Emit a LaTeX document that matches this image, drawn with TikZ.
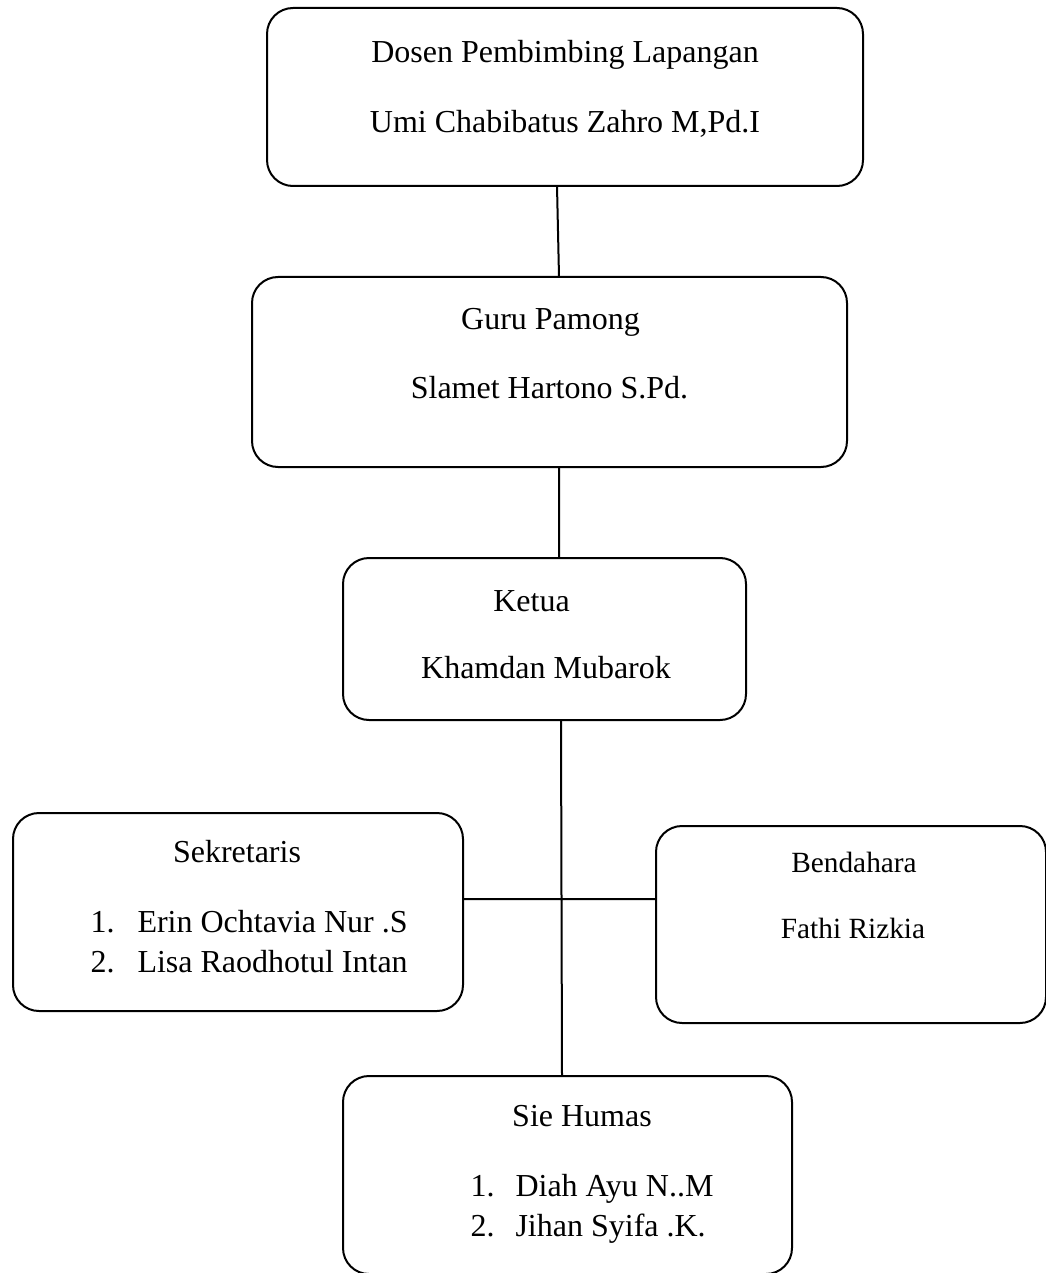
\documentclass[tikz,border=0pt]{standalone}
\usepackage{fontspec}
\setmainfont{Liberation Serif}
\usepackage{tikz}
\usetikzlibrary{positioning}
\newlength{\pxu}
\setlength{\pxu}{0.375pt}

\begin{document}
\begin{tikzpicture}[x=0.375pt, y=-0.375pt,
	kotak/.style={draw=black, line width=2\pxu, rounded corners=26\pxu, inner sep=0pt, outer sep=0pt},
	teks/.style={inner sep=0pt, anchor=base, font=\fontsize{12pt}{15pt}\selectfont},
	daftar/.style={teks, anchor=base west},
	garis/.style={draw=black, line width=2\pxu}]
	\useasboundingbox (0,0) rectangle (1046,1273);
	\clip (0,0) rectangle (1046,1273);

	% Add the boxes
	\node[kotak,
		  minimum width=596\pxu,
		  minimum height=178\pxu] (dosen) at (565,97) {};
	\node[kotak,
		  below=91\pxu of dosen,
		  xshift=-15.5\pxu,
		  minimum width=595\pxu,
		  minimum height=190\pxu] (guru) {};
	\node[kotak,
		  below=91\pxu of guru,
		  xshift=-5\pxu,
		  minimum width=403\pxu,
		  minimum height=162\pxu] (ketua) {};
	\node[kotak,
		  minimum width=450\pxu,
		  minimum height=198\pxu] (sekretaris) at (238,912) {};
	\node[kotak,
		  minimum width=390\pxu,
		  minimum height=197\pxu] (bendahara) at (851,924.5) {};
	\node[kotak,
		  below=356\pxu of ketua,
		  xshift=23\pxu,
		  minimum width=449\pxu,
		  minimum height=198\pxu] (humas) {};

	% Add the texts
	\node[teks] (dosen-jab) at ([yshift=-55\pxu]dosen.north) {Dosen Pembimbing Lapangan};
	\node[teks] (dosen-nama) at ([yshift=-125\pxu]dosen.north) {Umi Chabibatus Zahro M,Pd.I};
	\node[teks] (guru-jab) at ([xshift=1\pxu, yshift=-52\pxu]guru.north) {Guru Pamong};
	\node[teks] (guru-nama) at ([yshift=-121\pxu]guru.north) {Slamet Hartono S.Pd.};
	\node[teks] (ketua-jab) at ([xshift=-13\pxu, yshift=-53\pxu]ketua.north) {Ketua};
	\node[teks] (ketua-nama) at ([xshift=1.5\pxu, yshift=-120\pxu]ketua.north) {Khamdan Mubarok};
	\node[teks] (sek-jab) at ([xshift=-1\pxu, yshift=-49\pxu]sekretaris.north) {Sekretaris};
	\node[daftar] (sek-1) at ([xshift=77\pxu, yshift=-119\pxu]sekretaris.north west) {\makebox[47\pxu][l]{1.}Erin Ochtavia Nur .S};
	\node[daftar] (sek-2) at ([xshift=77\pxu, yshift=-159\pxu]sekretaris.north west) {\makebox[47\pxu][l]{2.}Lisa Raodhotul Intan};
	\node[teks,
		  font=\fontsize{11pt}{14pt}\selectfont] (bend-jab) at ([xshift=3\pxu, yshift=-46\pxu]bendahara.north) {Bendahara};
	\node[teks,
		  font=\fontsize{11pt}{14pt}\selectfont] (bend-nama) at ([xshift=2\pxu, yshift=-112\pxu]bendahara.north) {Fathi Rizkia};
	\node[teks] (humas-jab) at ([xshift=14.5\pxu, yshift=-50\pxu]humas.north) {Sie Humas};
	\node[daftar] (humas-1) at ([xshift=127\pxu, yshift=-120\pxu]humas.north west) {\makebox[45\pxu][l]{1.}Diah Ayu N..M};
	\node[daftar] (humas-2) at ([xshift=127\pxu, yshift=-160\pxu]humas.north west) {\makebox[45\pxu][l]{2.}Jihan Syifa .K.};

	% Add the lines
	\coordinate (simpang) at ([yshift=13\pxu]sekretaris.east);
	\draw[garis]
		([xshift=-8\pxu]dosen.south) -- ([xshift=9.5\pxu]guru.north)
		([xshift=9.5\pxu]guru.south) -- ([xshift=14.5\pxu]ketua.north)
		([xshift=16.5\pxu]ketua.south) -- ([xshift=-5.5\pxu]humas.north)
		(simpang) -- (simpang -| bendahara.west);
\end{tikzpicture}
\end{document}
